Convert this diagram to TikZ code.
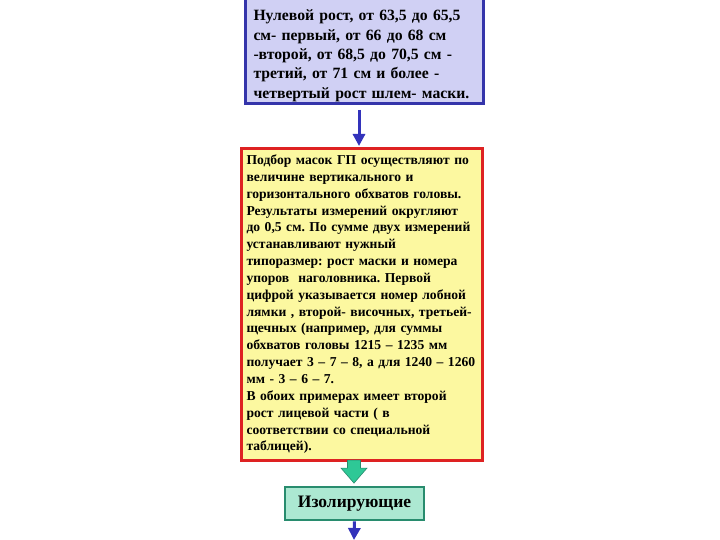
\documentclass[tikz,border=0pt]{standalone}
\usepackage{fontspec}
\setmainfont{Liberation Serif}
\usetikzlibrary{arrows.meta}
\definecolor{topfill}{RGB}{208,208,244}
\definecolor{topline}{RGB}{52,52,170}
\definecolor{arrblue}{RGB}{51,51,187}
\definecolor{redline}{RGB}{222,34,34}
\definecolor{yelfill}{RGB}{252,248,160}
\definecolor{grfill}{RGB}{172,232,210}
\definecolor{grline}{RGB}{40,140,110}
\definecolor{grarrow}{RGB}{46,200,150}
\tikzset{
  topbox/.style={draw=topline, fill=topfill, line width=3pt, text width=222pt, inner xsep=8pt, inner ysep=2pt, align=left, font=\fontsize{15.7}{19.3}\selectfont\bfseries\frenchspacing},
  redbox/.style={draw=redline, fill=yelfill, line width=2.6pt, text width=231pt, minimum height=312pt, inner xsep=5pt, align=left, font=\fontsize{13.6}{16.85}\selectfont\bfseries\frenchspacing},
  greenbox/.style={draw=grline, fill=grfill, line width=2.6pt, minimum width=139pt, minimum height=33pt, inner sep=0pt, font=\fontsize{17.5}{20}\selectfont\bfseries},
  bluearrow/.style={draw=arrblue, line width=3pt, -{Triangle[length=12pt,width=12pt]}},
  blockarrow/.style={fill=grarrow, draw=grline, line width=0.6pt}
}
\begin{document}
\begin{tikzpicture}[x=1pt,y=-1pt]
\clip (0,0) rectangle (720,540);
\fill[white] (0,0) rectangle (720,540);
\node[topbox, anchor=south] (top) at (364.5,105) {\rule{0pt}{30pt}Нулевой рост, от 63,5 до 65,5\\см- первый, от 66 до 68 см\\-второй, от 68,5 до 70,5 см -\\третий, от 71 см и более -\\четвертый рост шлем- маски.};
\node[redbox, anchor=north] (red) at (362,147) {Подбор масок ГП осуществляют по\\величине вертикального и\\горизонтального обхватов головы.\\Результаты измерений округляют\\до 0,5 см. По сумме двух измерений\\устанавливают нужный\\типоразмер: рост маски и номера\\упоров\ \ наголовника. Первой\\цифрой указывается номер лобной\\лямки , второй- височных, третьей-\\щечных (например, для суммы\\обхватов головы 1215 – 1235 мм\\получает 3 – 7 – 8, а для 1240 – 1260\\мм - 3 – 6 – 7.\\В обоих примерах имеет второй\\рост лицевой части ( в\\соответствии со специальной\\таблицей).};
\node[greenbox] (green) at (354.5,503.5) {Изолирующие};
\coordinate (a1) at (359,0);
\coordinate (endb) at (354,540);
\draw[bluearrow, shorten <=5pt] (top.south -| a1) -- ([yshift=1pt]red.north -| a1);
\draw[blockarrow] ([xshift=-7pt,yshift=1.5pt]red.south -| green.north) -- ++(13,0) -- ++(0,8) -- ++(6.5,0) -- ++(-13,15) -- ++(-13,-15) -- ++(6.5,0) -- cycle;
\draw[bluearrow] (green.south) -- (endb);
\end{tikzpicture}
\end{document}
